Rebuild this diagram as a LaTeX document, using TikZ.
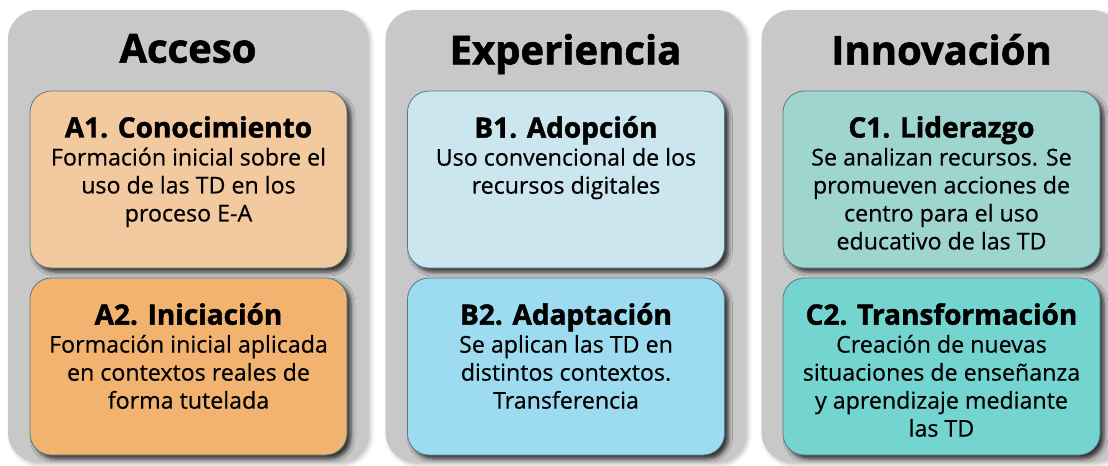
\documentclass[tikz,border=0pt]{standalone}
\usepackage{fontspec}
\setmainfont{Open Sans}
\newfontfamily\heavyfont{Open Sans}[BoldFeatures={FakeBold=1.6}]
\newfontfamily\bodyfont{Open Sans}[FakeBold=0.5]
\usepackage{tikz}
\usetikzlibrary{shapes,positioning,calc,shadows,shadows.blur,backgrounds}
\usepackage{xcolor}
\definecolor{panelgray}{HTML}{C8C8C8}
\definecolor{edgec}{HTML}{58798A}
\definecolor{shadowc}{HTML}{2F4E63}
\definecolor{colA1}{HTML}{F3CA9F}
\definecolor{colA2}{HTML}{F1B36F}
\definecolor{colB1}{HTML}{CBE6EF}
\definecolor{colB2}{HTML}{9DDCF0}
\definecolor{colC1}{HTML}{9FD5CF}
\definecolor{colC2}{HTML}{74D4CF}
\newcommand{\lvtitle}{\fontsize{21}{24}\selectfont\heavyfont\bfseries}

\begin{document}
\begin{tikzpicture}[
    x=0.75pt, y=-0.75pt,
    node distance=10pt and 10pt,
    panel/.style={rectangle, rounded corners=22pt, fill=panelgray, minimum width=270pt, minimum height=339pt,
        blur shadow={shadow xshift=2pt, shadow yshift=-2pt, shadow blur radius=3pt, shadow opacity=25}},
    level/.style={rectangle, rounded corners=16pt, draw=edgec, line width=0.6pt, minimum width=237.75pt, minimum height=132.75pt,
        blur shadow={shadow xshift=3pt, shadow yshift=-3pt, shadow blur radius=3pt, shadow opacity=75, fill=shadowc}},
    paneltitle/.style={inner sep=0pt, font=\fontsize{30}{33}\selectfont\heavyfont\bfseries},
    leveltext/.style={inner sep=0pt, align=center, font=\fontsize{17.4}{21}\selectfont\bodyfont}
]
\useasboundingbox (0,0) rectangle (1108,465);

% Panels
\node[panel] (pa) at (188,236) {};
\node[panel] (pb) at (565.5,236) {};
\node[panel] (pc) at (941.5,236) {};

\node[paneltitle, below=18pt of pa.north] (ta) {Acceso};
\node[paneltitle, below=18pt of pb.north] (tb) {Experiencia};
\node[paneltitle, below=18pt of pc.north] (tc) {Innovación};

% Levels
\node[level, fill=colA1] (a1) at (188.5,179.5) {};
\node[level, fill=colA2] (a2) at (188.5,366.5) {};
\node[level, fill=colB1] (b1) at (566,179.5) {};
\node[level, fill=colB2] (b2) at (566,366.5) {};
\node[level, fill=colC1] (c1) at (941.5,179.5) {};
\node[level, fill=colC2] (c2) at (941.5,366.5) {};

\node[leveltext, below=19pt of a1.north] (a1t) {{\lvtitle A1. Conocimiento}\\Formación inicial sobre el\\uso de las TD en los\\proceso E-A};
\node[leveltext, below=19pt of a2.north] (a2t) {{\lvtitle A2. Iniciación}\\Formación inicial aplicada\\en contextos reales de\\forma tutelada};
\node[leveltext, below=19pt of b1.north] (b1t) {{\lvtitle B1. Adopción}\\Uso convencional de los\\recursos digitales};
\node[leveltext, below=19pt of b2.north] (b2t) {{\lvtitle B2. Adaptación}\\Se aplican las TD en\\distintos contextos.\\Transferencia};
\node[leveltext, below=19pt of c1.north] (c1t) {{\lvtitle C1. Liderazgo}\\Se analizan recursos. Se\\promueven acciones de\\centro para el uso\\educativo de las TD};
\node[leveltext, below=19pt of c2.north] (c2t) {{\lvtitle C2. Transformación}\\Creación de nuevas\\situaciones de enseñanza\\y aprendizaje mediante\\las TD};

\end{tikzpicture}
\end{document}
